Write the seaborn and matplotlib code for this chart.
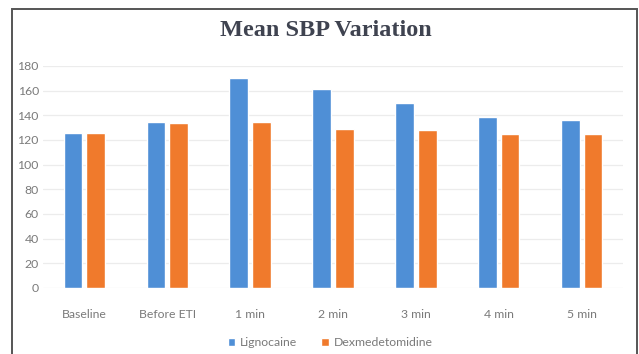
import matplotlib
matplotlib.use("Agg")
import matplotlib.pyplot as plt
from matplotlib.patches import Rectangle
import seaborn as sns
import pandas as pd

# Mean systolic blood pressure at each time point
time_points = ["Baseline", "Before ETI", "1 min", "2 min", "3 min", "4 min", "5 min"]
lignocaine = [126, 135, 170, 161, 150, 139, 136]
dexmedetomidine = [126, 134, 135, 129, 128, 125, 125]
series_names = ["Lignocaine", "Dexmedetomidine"]
y_ticks = [0, 20, 40, 60, 80, 100, 120, 140, 160, 180]

df = pd.DataFrame({
    "time": time_points * 2,
    "group": [series_names[0]] * len(time_points) + [series_names[1]] * len(time_points),
    "sbp": lignocaine + dexmedetomidine,
})

sns.set_theme(style="white")
plt.rcParams["font.family"] = ["Lato", "DejaVu Sans"]

fig = plt.figure(figsize=(6.39, 3.54), dpi=100)
ax = fig.add_axes([43 / 639, 1 - 288 / 354, 580 / 639, 222 / 354])

palette = {"Lignocaine": "#4F8FD6", "Dexmedetomidine": "#F07A2C"}
sns.barplot(data=df, x="time", y="sbp", hue="group", order=time_points,
            hue_order=series_names, palette=palette, width=0.55, gap=0.18,
            saturation=1, ax=ax, legend=True)

ax.set_ylim(0, 180)
ax.set_xlim(-0.5, len(time_points) - 0.5)
ax.set_yticks(y_ticks)
ax.set_yticklabels([str(t) for t in y_ticks])
ax.yaxis.grid(True, color="#ececec", linewidth=0.9)
ax.set_axisbelow(True)
for s in ax.spines.values():
    s.set_visible(False)
ax.set_xlabel("")
ax.set_ylabel("")
ax.tick_params(axis="both", length=0, labelsize=8.8, labelcolor="#7a7a7a")
ax.tick_params(axis="y", pad=3)
ax.tick_params(axis="x", pad=15)

ax.legend(loc="center", bbox_to_anchor=(0.495, -0.247), ncol=2, frameon=False,
          fontsize=8.8, labelcolor="#7a7a7a", handlelength=0.6, handleheight=0.6,
          handletextpad=0.4, columnspacing=2.0)

fig.text(326 / 639, 1 - 31 / 354, "Mean SBP Variation", ha="center", va="center",
         fontsize=17.5, fontweight="bold", family="Liberation Serif", color="#3f4350")

# Chart frame
fig.patches.append(Rectangle((12 / 639, -0.05), (637 - 12) / 639, 1.05 - 9 / 354,
                             transform=fig.transFigure, fill=False,
                             edgecolor="#555555", linewidth=1.4))

fig.savefig("out.png", dpi=100, facecolor="white")
